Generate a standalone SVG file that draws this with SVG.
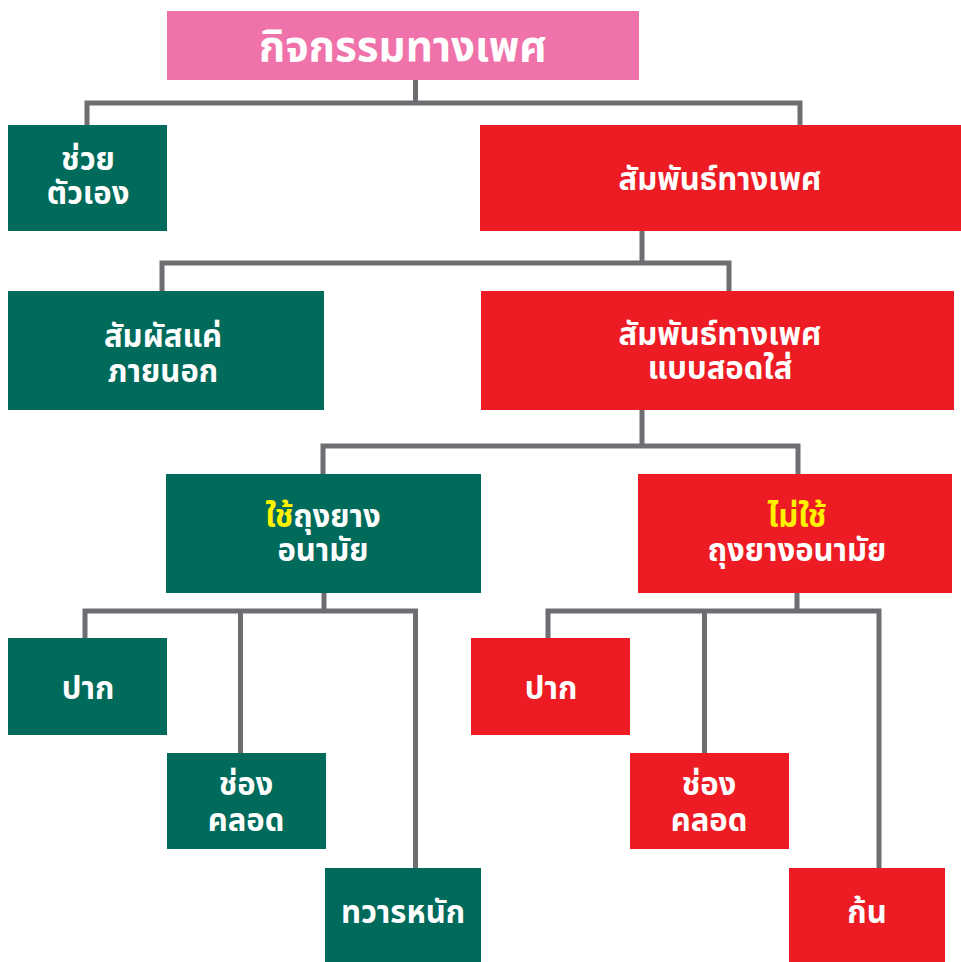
<svg xmlns="http://www.w3.org/2000/svg" width="961" height="962" viewBox="0 0 961 962">
<style>
.g{fill:#006A5B}
.r{fill:#ED1C24}
.p{fill:#F072AA}
text{font-family:"Noto Sans Thai","Noto Sans","Tahoma",sans-serif;font-weight:bold;fill:#FFFFFF;text-anchor:middle;font-size:31px}
.y{fill:#FFF200}
.big{font-size:42px}
#connectors path{fill:none;stroke:#6D6E71;stroke-width:5}
</style>
<rect width="961" height="962" fill="#FFFFFF"/>
<g id="connectors">
<path d="M415.5 80V103M87 125V103H800V125"/>
<path d="M642 231V263M162 291V263H729V291"/>
<path d="M642 410V446M323 474V446H798V474"/>
<path d="M324 593V611M85 638V611H415.5V868M240.5 611V753"/>
<path d="M797 593V611M548 638V611H879V868M704.5 611V753"/>
</g>
<g id="n-root"><rect class="p" x="167" y="11" width="472" height="69"/><text class="big" x="403" y="61">กิจกรรมทางเพศ</text></g>
<g id="n-self"><rect class="g" x="8" y="125" width="159" height="106"/><text x="88" y="170">ช่วย<tspan x="88" dy="34">ตัวเอง</tspan></text></g>
<g id="n-sex"><rect class="r" x="480" y="125" width="481" height="106"/><text x="720" y="190">สัมพันธ์ทางเพศ</text></g>
<g id="n-outer"><rect class="g" x="8" y="291" width="316" height="119"/><text x="163" y="347">สัมผัสแค่<tspan x="163" dy="35">ภายนอก</tspan></text></g>
<g id="n-pen"><rect class="r" x="481" y="291" width="473" height="119"/><text x="720" y="345">สัมพันธ์ทางเพศ<tspan x="720" dy="34">แบบสอดใส่</tspan></text></g>
<g id="n-condom"><rect class="g" x="166" y="474" width="315" height="119"/><text x="323" y="527"><tspan class="y">ใช้</tspan>ถุงยาง<tspan x="323" dy="34">อนามัย</tspan></text></g>
<g id="n-nocondom"><rect class="r" x="638" y="474" width="314" height="119"/><text x="797" y="527"><tspan class="y">ไม่ใช้</tspan><tspan x="797" dy="34">ถุงยางอนามัย</tspan></text></g>
<g id="n-g-mouth"><rect class="g" x="8" y="638" width="159" height="97"/><text x="88" y="699">ปาก</text></g>
<g id="n-g-vag"><rect class="g" x="167" y="753" width="159" height="96"/><text x="246" y="795">ช่อง<tspan x="246" dy="36">คลอด</tspan></text></g>
<g id="n-g-anal"><rect class="g" x="325" y="868" width="156" height="94"/><text x="403" y="923">ทวารหนัก</text></g>
<g id="n-r-mouth"><rect class="r" x="471" y="638" width="159" height="97"/><text x="551" y="699">ปาก</text></g>
<g id="n-r-vag"><rect class="r" x="630" y="753" width="159" height="96"/><text x="709" y="795">ช่อง<tspan x="709" dy="36">คลอด</tspan></text></g>
<g id="n-r-anal"><rect class="r" x="789" y="868" width="156" height="94"/><text x="867" y="923">ก้น</text></g>
</svg>
